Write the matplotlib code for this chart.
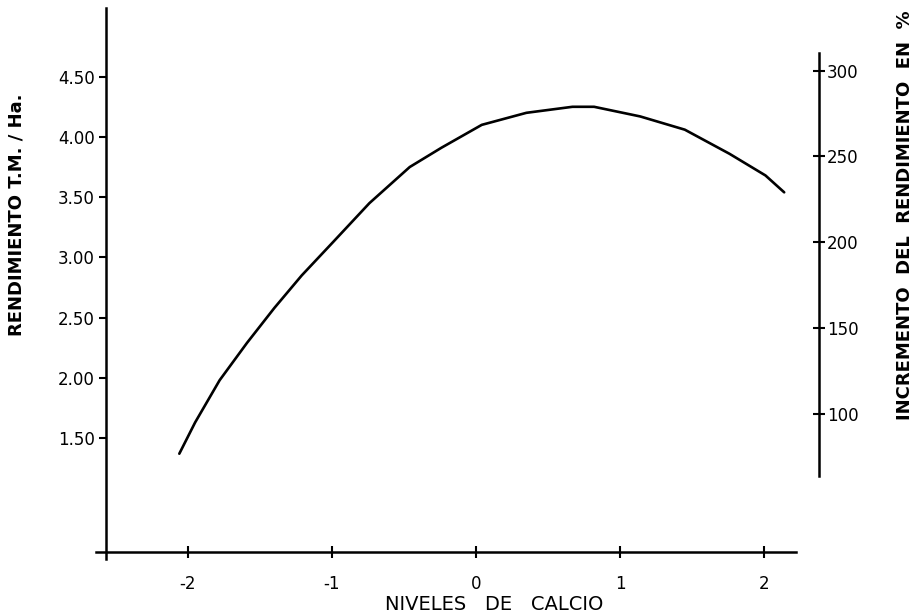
import matplotlib
matplotlib.use('Agg')
import matplotlib.pyplot as plt

plt.rcParams['font.family'] = ['DejaVu Sans']
plt.rcParams['axes.unicode_minus'] = False

niveles = [-2.06, -1.95, -1.78, -1.59, -1.40, -1.21, -0.99, -0.74, -0.46, -0.24,
           0.04, 0.35, 0.67, 0.82, 1.14, 1.45, 1.76, 2.01, 2.14]
rendimiento = [1.37, 1.63, 1.98, 2.29, 2.58, 2.85, 3.13, 3.45, 3.75, 3.91,
               4.10, 4.20, 4.25, 4.25, 4.17, 4.06, 3.86, 3.68, 3.54]

x_ticks = [-2, -1, 0, 1, 2]
x_ticklabels = ['-2', '-1', '0', '1', '2']
y_ticks = [1.5, 2.0, 2.5, 3.0, 3.5, 4.0, 4.5]
inc_ticks = [100, 150, 200, 250, 300]

# donde cae 100 % y 300 % sobre la escala izquierda
inc100_en_rend = 1.70
inc300_en_rend = 4.55

fig = plt.figure(figsize=(9.2, 6.12), dpi=100)
ax = fig.add_axes([0.1041, 0.0874, 0.7608, 0.8995])

ax.plot(niveles, rendimiento, color='black', linewidth=1.9, solid_capstyle='round')

ax.set_xlim(-2.64, 2.22)
ax.set_ylim(0.50, 5.07)

ax.spines['top'].set_visible(False)
ax.spines['right'].set_visible(False)
ax.spines['left'].set_position(('data', -2.57))
ax.spines['bottom'].set_position(('data', 0.55))
ax.spines['left'].set_linewidth(1.8)
ax.spines['bottom'].set_linewidth(1.8)

ax.set_xticks(x_ticks)
ax.set_xticklabels(x_ticklabels)
ax.set_yticks(y_ticks)
ax.set_yticklabels(['%.2f' % v for v in y_ticks])
ax.tick_params(axis='x', direction='inout', length=8, width=1.5, pad=12, labelsize=12)
ax.tick_params(axis='y', direction='out', length=5, width=1.5, pad=3, labelsize=12)

# eje derecho: incremento del rendimiento en %
escala = (inc300_en_rend - inc100_en_rend) / 200.0
y0, y1 = ax.get_ylim()
ax2 = ax.twinx()
ax2.set_ylim(100 + (y0 - inc100_en_rend) / escala, 100 + (y1 - inc100_en_rend) / escala)
for s in ['top', 'left', 'bottom']:
    ax2.spines[s].set_visible(False)
ax2.spines['right'].set_position(('axes', 1.033))
ax2.spines['right'].set_bounds(64, 310)
ax2.spines['right'].set_linewidth(1.8)
ax2.set_yticks(inc_ticks)
ax2.tick_params(axis='y', direction='inout', length=8, width=1.5, pad=2, labelsize=12)

fig.text(17 / 920, 1 - 215 / 612, 'RENDIMIENTO T.M. / Ha.', rotation=90,
         ha='center', va='center', fontsize=13, fontweight='bold')
fig.text(905 / 920, 1 - 215 / 612, 'INCREMENTO  DEL  RENDIMIENTO  EN  %', rotation=90,
         ha='center', va='center', fontsize=13, fontweight='bold')
fig.text(494 / 920, 1 - 604 / 612, 'NIVELES   DE   CALCIO',
         ha='center', va='center', fontsize=14)

fig.savefig('out.png', dpi=100)
